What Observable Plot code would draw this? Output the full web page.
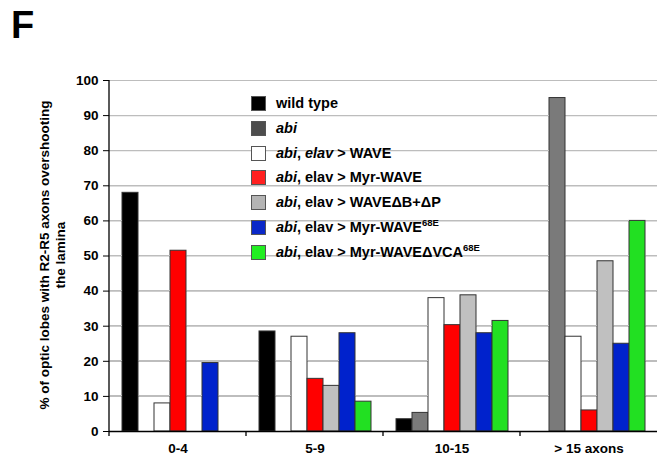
<!DOCTYPE html>
<html><head><meta charset="utf-8">
<script src="https://cdn.jsdelivr.net/npm/d3@7"></script>
<script src="https://cdn.jsdelivr.net/npm/@observablehq/plot@0.6"></script>
<style>
body{margin:0;background:#fff;font-family:"Liberation Sans",Arial,sans-serif;}
#wrap{position:relative;width:657px;height:459px;overflow:hidden;}
#F{position:absolute;left:11px;top:6px;font-size:38px;font-weight:bold;line-height:1;z-index:3;}
#ylab{position:absolute;left:53px;top:255px;transform:translate(-50%,-50%) rotate(-90deg);font-size:13.5px;font-weight:bold;text-align:center;white-space:nowrap;line-height:16px;z-index:3;}
#legend{position:absolute;left:251px;top:95px;font-size:14.5px;font-weight:bold;z-index:3;}
.gl{position:absolute;height:1px;background:#bdbdbd;z-index:2;}
.row{height:24.8px;display:flex;align-items:flex-start;}
.sw{width:13px;height:13px;border:1px solid #555;margin-right:10px;margin-top:1px;flex:none;}
sup{font-size:9.5px;vertical-align:6px;line-height:0;}
</style></head>
<body><div id="wrap"><div id="F">F</div><div id="ylab">% of optic lobes with R2-R5 axons overshooting<br>the lamina</div><div id="legend"></div></div>
<script>
const categories = ["0-4", "5-9", "10-15", "> 15 axons"];
const series = ["wild type", "abi", "abi, elav > WAVE", "abi, elav > Myr-WAVE", "abi, elav > WAVEΔB+ΔP", "abi, elav > Myr-WAVE68E", "abi, elav > Myr-WAVEΔVCA68E"];
const colors = ["#000000", "#7a7a7a", "#ffffff", "#ff0000", "#c0c0c0", "#0022cc", "#22e022"];
const legendColors = ["#000000", "#4d4d4d", "#ffffff", "#ff2020", "#b4b4b4", "#0a28c8", "#22ee22"];
const legendHtml = ["wild type", "<i>abi</i>", "<i>abi</i>, <i>elav</i> &gt; WAVE", "<i>abi</i>, elav &gt; Myr-WAVE", "<i>abi</i>, elav &gt; WAVEΔB+ΔP", "<i>abi</i>, elav &gt; Myr-WAVE<sup>68E</sup>", "<i>abi</i>, elav &gt; Myr-WAVEΔVCA<sup>68E</sup>"];
const wildType = [68, 28.5, 3.5, 0];
const abi = [0, 0, 5.3, 95];
const elavWave = [8, 27, 38, 27];
const myrWave = [51.5, 15, 30.3, 6];
const waveDeltaBP = [0, 13, 38.8, 48.5];
const myrWave68E = [19.5, 28, 28, 25];
const myrWaveDVCA68E = [0, 8.5, 31.5, 60];
const yTicks = [0, 10, 20, 30, 40, 50, 60, 70, 80, 90, 100];
const gridTicks = [10, 20, 30, 40, 50, 60, 70, 80, 90, 100];

const seriesValues = [wildType, abi, elavWave, myrWave, waveDeltaBP, myrWave68E, myrWaveDVCA68E];
const rows = [];
categories.forEach((c, i) => series.forEach((s, j) => rows.push({cat: c, series: s, value: seriesValues[j][i]})));

const chart = Plot.plot({
  width: 657, height: 459,
  marginLeft: 108, marginRight: 0, marginTop: 80, marginBottom: 28,
  style: {fontFamily: "Liberation Sans, Arial, sans-serif", fontSize: "13px", fontWeight: "bold", color: "#000"},
  fx: {domain: categories, padding: 0, label: null},
  x: {domain: series, paddingInner: 0, paddingOuter: 0.68, axis: null},
  y: {domain: [0, 100], label: null},
  color: {domain: series, range: colors},
  marks: [
    Plot.ruleY(gridTicks, {stroke: "#bdbdbd", strokeWidth: 1.2}),
    Plot.barY(rows.filter(d => d.value > 0), {fx: "cat", x: "series", y: "value", fill: "series", stroke: "#333", strokeWidth: 1}),
    Plot.ruleY([0], {stroke: "#000", strokeWidth: 1.3}),
    Plot.axisY(yTicks, {tickSize: 6, tickPadding: 5, fontWeight: "bold", fontSize: 13.5, label: null}),
    Plot.axisFx({anchor: "bottom", tickSize: 0, tickPadding: 12, fontWeight: "bold", fontSize: 13.5, label: null})
  ]
});
const wrap = document.getElementById("wrap");
wrap.prepend(chart);
chart.style.position = "absolute"; chart.style.left = "0"; chart.style.top = "0";

// axis line and category boundary ticks, positioned from the scales
const fx = chart.scale("fx"), ys = chart.scale("y");
const y0 = ys.apply(0), y100 = ys.apply(100);
const svg = d3.select(chart);
const x0 = fx.apply(categories[0]);
const xEnd = 657;
svg.append("line").attr("x1", x0).attr("x2", x0).attr("y1", y100).attr("y2", y0).attr("stroke", "#000").attr("stroke-width", 1.3);
categories.forEach(c => {
  const x = fx.apply(c);
  svg.append("line").attr("x1", x).attr("x2", x).attr("y1", y0).attr("y2", y0 + 5).attr("stroke", "#000").attr("stroke-width", 1.3);
});

// gridlines as thin HTML strips above the chart, interrupted where the rendered bars stand
const wrapBox = wrap.getBoundingClientRect();
const barBoxes = Array.from(chart.querySelectorAll("rect")).map(r => {
  const b = r.getBoundingClientRect();
  return {x1: b.left - wrapBox.left, x2: b.right - wrapBox.left, top: b.top - wrapBox.top, bottom: b.bottom - wrapBox.top};
}).filter(b => b.x2 - b.x1 < 40 && b.bottom > b.top);
function strip(xa, xb, yy) {
  const d = document.createElement("div");
  d.className = "gl";
  d.style.left = xa + "px"; d.style.width = (xb - xa) + "px"; d.style.top = Math.round(yy - 0.5) + "px";
  wrap.appendChild(d);
}
gridTicks.forEach(t => {
  const yy = ys.apply(t);
  const blocks = barBoxes.filter(b => b.top < yy && b.bottom > yy).map(b => [b.x1 - 0.5, b.x2 + 0.5]).sort((a, b) => a[0] - b[0]);
  let start = x0 + 1;
  blocks.forEach(([a, b]) => {
    if (a > start) strip(start, a, yy);
    start = Math.max(start, b);
  });
  if (xEnd > start) strip(start, xEnd, yy);
});

const leg = document.getElementById("legend");
legendHtml.forEach((h, i) => {
  const r = document.createElement("div"); r.className = "row";
  r.innerHTML = `<div class="sw" style="background:${legendColors[i]}"></div><div>${h}</div>`;
  leg.appendChild(r);
});
</script></body></html>
